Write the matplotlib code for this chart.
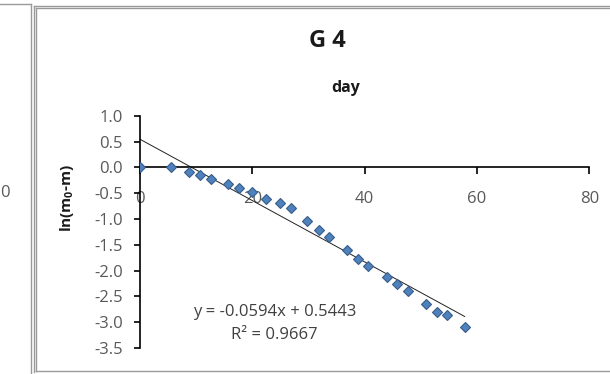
import numpy as np
import matplotlib.pyplot as plt
from matplotlib.lines import Line2D

plt.rcParams['font.family'] = ['Open Sans', 'DejaVu Sans']
plt.rcParams['mathtext.fontset'] = 'custom'
plt.rcParams['mathtext.rm'] = 'Open Sans'
plt.rcParams['mathtext.bf'] = 'Open Sans:bold'

# values
days = [0, 5.5, 8.7, 10.7, 12.7, 15.7, 17.7, 19.9, 22.5, 24.9, 26.8, 29.7,
        31.9, 33.7, 36.8, 38.9, 40.6, 43.9, 45.7, 47.7, 51.0, 52.8, 54.7, 57.8]
ln_vals = [0, 0, -0.09, -0.15, -0.23, -0.33, -0.40, -0.48, -0.61, -0.69, -0.78,
           -1.04, -1.21, -1.35, -1.60, -1.78, -1.92, -2.13, -2.26, -2.40, -2.65,
           -2.80, -2.87, -3.09]
slope = -0.0594
intercept = 0.5443
r2 = 0.9667
xticks = [0, 20, 40, 60, 80]
yticks = [1.0, 0.5, 0.0, -0.5, -1.0, -1.5, -2.0, -2.5, -3.0, -3.5]

fig = plt.figure(figsize=(6.1, 3.74), dpi=100)
ax = fig.add_axes([0.2295, 0.0695, 0.7366, 0.6211])
ax.patch.set_alpha(0)

x = np.array(days)
ax.plot(x, ln_vals, 'D', ms=5.3, color='#4F81BD', mec='#385D8A', mew=0.8, zorder=3)
xl = np.array([0, x.max()])
ax.plot(xl, slope * xl + intercept, color='#222222', lw=0.7, zorder=2)

ax.set_xlim(0, 80)
ax.set_ylim(-3.5, 1.0)
ax.set_xticks(xticks)
ax.set_yticks(yticks)
ax.set_yticklabels(['%.1f' % v for v in yticks])

for s in ['top', 'right']:
    ax.spines[s].set_visible(False)
ax.spines['bottom'].set_position(('data', 0))
ax.spines['bottom'].set_linewidth(1.2)
ax.spines['left'].set_linewidth(1.2)
ax.tick_params(axis='x', direction='out', length=5, width=1.2, pad=12,
               labelsize=12, labelcolor='#595959')
ax.tick_params(axis='y', direction='out', length=4.5, width=1.2, pad=8,
               labelsize=12, labelcolor='#595959')

fig.text(0.537, 0.890, 'G 4', ha='center', va='center', fontsize=17,
         fontweight='bold', color='#1a1a1a')
fig.text(0.566, 0.766, 'day', ha='center', va='center', fontsize=11.5,
         fontweight='bold', color='#1a1a1a')
fig.text(0.110, 0.47, r'ln(m$_\mathbf{0}$-m)', ha='center', va='center',
         rotation=90, fontsize=11, fontweight='bold', color='#1a1a1a')

ax.text(0.30, 0.155, 'y = -0.0594x + 0.5443', transform=ax.transAxes,
        ha='center', va='center', fontsize=12, color='#404040')
ax.text(0.30, 0.055, 'R² = %.4f' % r2, transform=ax.transAxes,
        ha='center', va='center', fontsize=12, color='#404040')

# frames of the chart area and the neighbouring chart
W, H = 610, 374
def px_line(x0, y0, x1, y1, c='#9a9a9a', lw=1.0):
    fig.add_artist(Line2D([x0 / W, x1 / W], [1 - y0 / H, 1 - y1 / H],
                          color=c, lw=lw, transform=fig.transFigure))

px_line(0, 4, 31, 4)
px_line(31, 4, 31, 374)
px_line(33.5, 5.5, 610, 5.5)
px_line(33.5, 5.5, 33.5, 372)
px_line(35.5, 7.5, 610, 7.5)
px_line(35.5, 7.5, 35.5, 371)
px_line(35.5, 371, 610, 371)
fig.text(0.001, 1 - 193 / H, '0', ha='left', va='center', fontsize=12,
         color='#595959')

fig.savefig('out.png', dpi=100)
